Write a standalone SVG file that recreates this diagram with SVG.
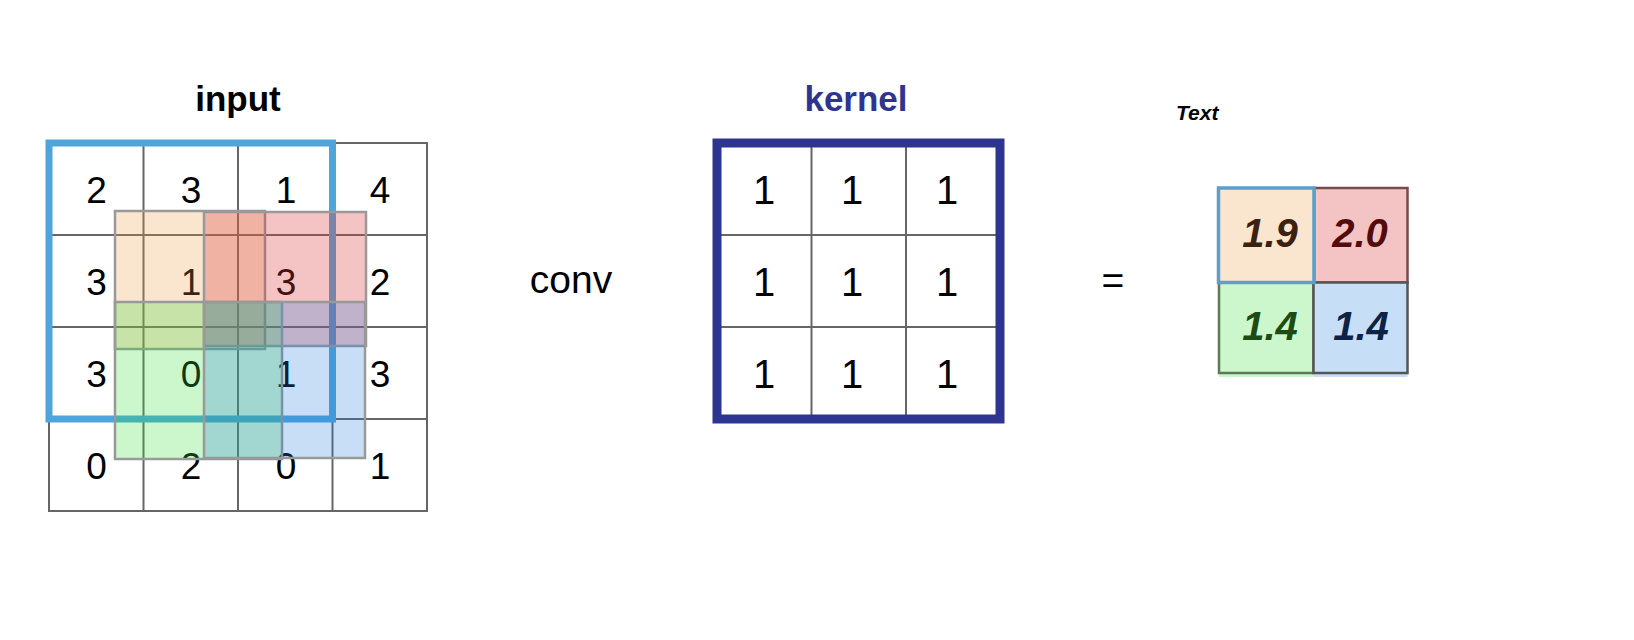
<svg xmlns="http://www.w3.org/2000/svg" width="1634" height="640" viewBox="0 0 1634 640">
<style>
.lbl{font-family:"Liberation Sans",Arial,sans-serif;fill:#000}
.title{font-family:"Liberation Sans",Arial,sans-serif;font-weight:bold;font-size:35px;text-anchor:middle}
.dig{font-family:"Liberation Sans",Arial,sans-serif;font-size:37px;text-anchor:middle;fill:#000}
.kdig{font-family:"Liberation Sans",Arial,sans-serif;font-size:40px;text-anchor:middle;fill:#000}
.out{font-family:"Liberation Sans",Arial,sans-serif;font-size:40px;font-weight:bold;font-style:italic;text-anchor:middle}
.grid{stroke:#666;stroke-width:2;fill:none}
.ov{stroke:#999;stroke-width:2.5}
</style>
<rect width="1634" height="640" fill="#fff"/>

<g id="input">
  <text class="title" x="238" y="111" fill="#000">input</text>
  <g class="grid">
    <rect x="49" y="143" width="378" height="368"/>
    <line x1="143.5" y1="143" x2="143.5" y2="511"/>
    <line x1="238" y1="143" x2="238" y2="511"/>
    <line x1="332.5" y1="143" x2="332.5" y2="511"/>
    <line x1="49" y1="235" x2="427" y2="235"/>
    <line x1="49" y1="327" x2="427" y2="327"/>
    <line x1="49" y1="419" x2="427" y2="419"/>
  </g>
  <g>
    <text class="dig" x="96.5" y="203">2</text>
    <text class="dig" x="191" y="203">3</text>
    <text class="dig" x="286" y="203">1</text>
    <text class="dig" x="380" y="203">4</text>
    <text class="dig" x="96.5" y="295">3</text>
    <text class="dig" x="191" y="295">1</text>
    <text class="dig" x="286" y="295">3</text>
    <text class="dig" x="380" y="295">2</text>
    <text class="dig" x="96.5" y="387">3</text>
    <text class="dig" x="191" y="387">0</text>
    <text class="dig" x="286" y="387">1</text>
    <text class="dig" x="380" y="387">3</text>
    <text class="dig" x="96.5" y="479">0</text>
    <text class="dig" x="191" y="479">2</text>
    <text class="dig" x="286" y="479">0</text>
    <text class="dig" x="380" y="479">1</text>
  </g>
  <rect id="window" x="49" y="143" width="283.5" height="276" fill="none" stroke="#4EA5DC" stroke-width="7"/>
  <rect id="ov-beige" class="ov" x="115" y="211" width="150" height="138" fill="rgb(236,156,64)" fill-opacity="0.25"/>
  <rect id="ov-pink" class="ov" x="204" y="212" width="162" height="134" fill="rgb(218,58,58)" fill-opacity="0.3"/>
  <rect id="ov-green" class="ov" x="115" y="302" width="167" height="157" fill="rgb(52,220,52)" fill-opacity="0.25"/>
  <rect id="ov-blue" class="ov" x="204" y="302" width="161" height="156" fill="rgb(32,124,220)" fill-opacity="0.25"/>
</g>

<g id="conv">
  <text class="lbl" x="571" y="293" font-size="39" text-anchor="middle">conv</text>
</g>

<g id="kernel">
  <text class="title" x="856" y="111" fill="#2E3590">kernel</text>
  <g class="grid">
    <line x1="811.5" y1="143" x2="811.5" y2="419"/>
    <line x1="906" y1="143" x2="906" y2="419"/>
    <line x1="717" y1="235" x2="1000" y2="235"/>
    <line x1="717" y1="327" x2="1000" y2="327"/>
  </g>
  <rect x="717" y="143" width="283" height="276" fill="none" stroke="#2E3590" stroke-width="9"/>
  <text class="kdig" x="764" y="204">1</text>
  <text class="kdig" x="852" y="204">1</text>
  <text class="kdig" x="947" y="204">1</text>
  <text class="kdig" x="764" y="296">1</text>
  <text class="kdig" x="852" y="296">1</text>
  <text class="kdig" x="947" y="296">1</text>
  <text class="kdig" x="764" y="388">1</text>
  <text class="kdig" x="852" y="388">1</text>
  <text class="kdig" x="947" y="388">1</text>
</g>

<g id="equals">
  <text class="lbl" x="1113" y="294" font-size="39" text-anchor="middle">=</text>
</g>

<g id="output">
  <text class="lbl" x="1176" y="120" font-size="21" font-weight="bold" font-style="italic">Text</text>
  <rect x="1219" y="373" width="94.5" height="4" fill="#CCF6CC"/>
  <rect x="1313.5" y="373" width="94" height="4" fill="#C6DEF6"/>
  <rect x="1314" y="188" width="93.5" height="94.5" fill="#F4C4C4" stroke="#7A4A4A" stroke-width="2.5"/>
  <rect x="1219" y="282.5" width="94.5" height="90.5" fill="#CCF6CC" stroke="#5A7A5A" stroke-width="2.5"/>
  <rect x="1313.5" y="282.5" width="94" height="90.5" fill="#C6DEF6" stroke="#555" stroke-width="2.5"/>
  <rect x="1218.5" y="188" width="95.5" height="94.5" fill="#FAE6CF" stroke="#5B9FCB" stroke-width="3.5"/>
  <text class="out" x="1270" y="247" fill="#3B2210">1.9</text>
  <text class="out" x="1360" y="247" fill="#520C0C">2.0</text>
  <text class="out" x="1270" y="340" fill="#1E4A14">1.4</text>
  <text class="out" x="1361" y="340" fill="#0E2246">1.4</text>
</g>
</svg>
